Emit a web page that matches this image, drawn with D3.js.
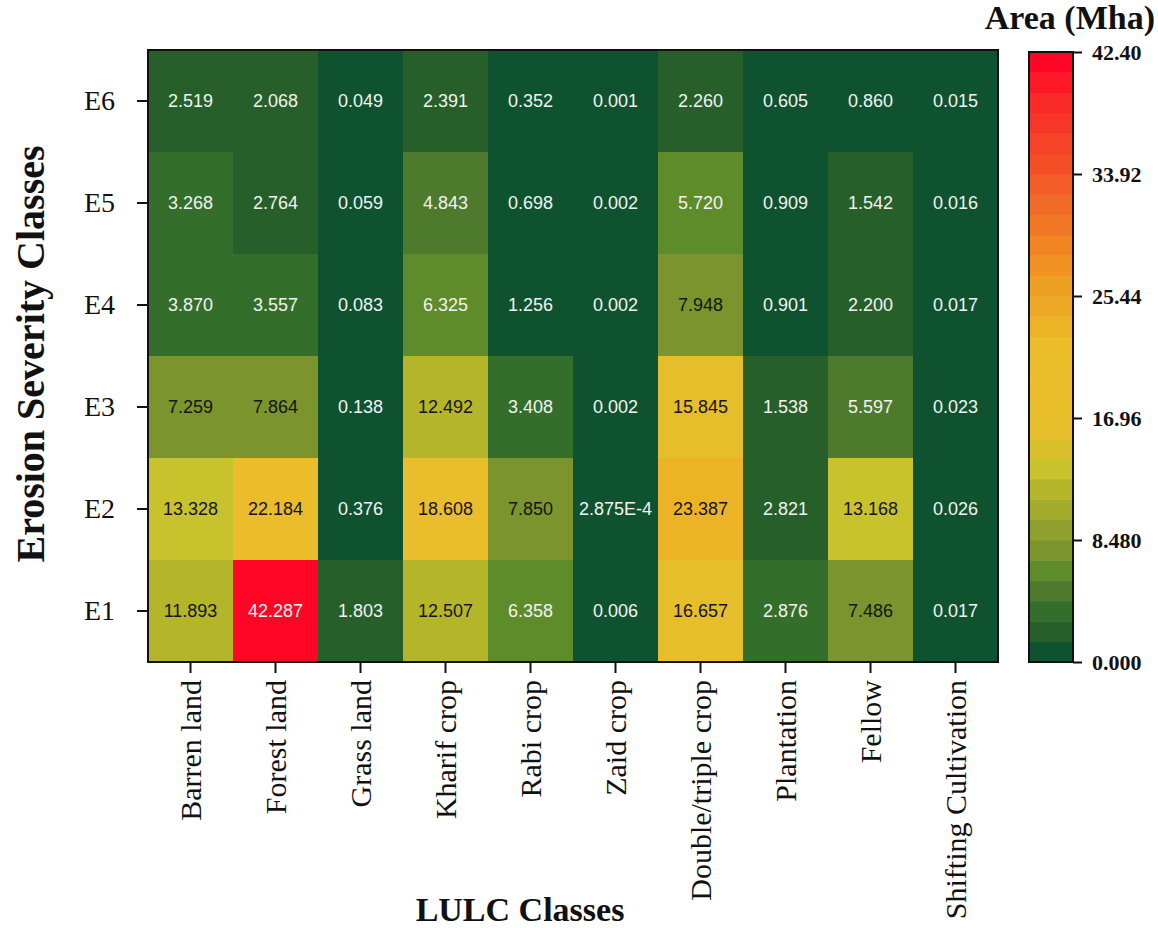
<!DOCTYPE html>
<html>
<head>
<meta charset="utf-8">
<script src="https://cdn.jsdelivr.net/npm/d3@7"></script>
<style>
  body { margin: 0; background: #fff; }
  svg { display: block; }
</style>
</head>
<body>
<svg id="chart" width="1158" height="928"></svg>
<script>
// ---- data ----
const lulcClasses = ["Barren land", "Forest land", "Grass land", "Kharif crop", "Rabi crop",
  "Zaid crop", "Double/triple crop", "Plantation", "Fellow", "Shifting Cultivation"];
const severityClasses = ["E6", "E5", "E4", "E3", "E2", "E1"];
const e6 = [2.519, 2.068, 0.049, 2.391, 0.352, 0.001, 2.260, 0.605, 0.860, 0.015];
const e5 = [3.268, 2.764, 0.059, 4.843, 0.698, 0.002, 5.720, 0.909, 1.542, 0.016];
const e4 = [3.870, 3.557, 0.083, 6.325, 1.256, 0.002, 7.948, 0.901, 2.200, 0.017];
const e3 = [7.259, 7.864, 0.138, 12.492, 3.408, 0.002, 15.845, 1.538, 5.597, 0.023];
const e2 = [13.328, 22.184, 0.376, 18.608, 7.850, 2.875e-4, 23.387, 2.821, 13.168, 0.026];
const e1 = [11.893, 42.287, 1.803, 12.507, 6.358, 0.006, 16.657, 2.876, 7.486, 0.017];
const colorbarTicks = [0, 8.48, 16.96, 25.44, 33.92, 42.40];
const colorbarTickLabels = ["0.000", "8.480", "16.96", "25.44", "33.92", "42.40"];
const colorMax = 42.40;
const nLevels = 30;

const rowsData = [e6, e5, e4, e3, e2, e1];
const cells = [];
rowsData.forEach((arr, ri) => arr.forEach((v, ci) => cells.push({row: severityClasses[ri], col: lulcClasses[ci], v})));

// ---- layout ----
const svg = d3.select("#chart");
const L = 148, T = 50, R = 998, B = 662;

const x = d3.scaleBand().domain(lulcClasses).range([L, R]);
const y = d3.scaleBand().domain(severityClasses).range([T, B]);

// colormap anchors (green -> yellow -> red), quantized into levels
const anchorVals = [0.71, 2.12, 3.53, 4.95, 6.36, 7.77, 9.19, 10.6, 12.01, 13.43, 14.84, 16.25,
  21.91, 23.32, 24.73, 26.15, 28.97, 31.8, 34.62, 38.87, 41.69];
const anchorCols = ["#0f5230", "#275f2b", "#336f2a", "#4e7a2e", "#5e8c2a", "#7b942d", "#8fa02c", "#a3ac2c",
  "#b5b52a", "#c8c22c", "#d8c02a", "#e6bd2a", "#ecbd2b", "#edb327", "#eda926", "#eea024", "#f38422",
  "#f06a28", "#f44e26", "#f92a28", "#ff0626"];
const cont = d3.scaleLinear().domain(anchorVals).range(anchorCols).interpolate(d3.interpolateRgb).clamp(true);
const step = colorMax / nLevels;
const levelColors = d3.range(nLevels).map(i => cont((i + 0.5) * step));
const color = d3.scaleQuantize().domain([0, colorMax]).range(levelColors);

// cells
svg.append("g").selectAll("rect").data(cells).join("rect")
  .attr("x", d => x(d.col))
  .attr("y", d => y(d.row))
  .attr("width", x.bandwidth() + 0.5)
  .attr("height", y.bandwidth() + 0.5)
  .attr("fill", d => color(Math.min(d.v, colorMax - 1e-9)));

const fmt = v => v < 0.001 ? v.toExponential(3).toUpperCase() : v.toFixed(3);
svg.append("g").selectAll("text").data(cells).join("text")
  .attr("x", d => x(d.col) + x.bandwidth() / 2)
  .attr("y", d => y(d.row) + y.bandwidth() / 2)
  .attr("dy", "0.36em")
  .attr("text-anchor", "middle")
  .attr("font-family", "Liberation Sans, Arial, sans-serif")
  .attr("font-size", 18)
  .attr("fill", d => (d.v >= 7 && d.v < 40) ? "#151515" : "#f2f2f2")
  .text(d => fmt(d.v));

// frame
svg.append("rect").attr("x", L).attr("y", T).attr("width", R - L).attr("height", B - T)
  .attr("fill", "none").attr("stroke", "#111").attr("stroke-width", 2);

// axes
const yAxis = svg.append("g").attr("transform", `translate(${L},0)`)
  .call(d3.axisLeft(y).tickSize(11).tickPadding(22));
yAxis.select(".domain").remove();
yAxis.selectAll(".tick line").attr("stroke", "#111").attr("stroke-width", 2);
yAxis.selectAll(".tick text").attr("font-family", "Liberation Serif, Times New Roman, serif")
  .attr("font-size", 28).attr("fill", "#111");

const xAxis = svg.append("g").attr("transform", `translate(0,${B})`)
  .call(d3.axisBottom(x).tickSize(11));
xAxis.select(".domain").remove();
xAxis.selectAll(".tick line").attr("stroke", "#111").attr("stroke-width", 2);
xAxis.selectAll(".tick text")
  .attr("font-family", "Liberation Serif, Times New Roman, serif")
  .attr("font-size", 30).attr("fill", "#111")
  .attr("transform", "rotate(-90)")
  .attr("text-anchor", "end")
  .attr("x", -18).attr("y", 0).attr("dy", "0.35em");

// axis titles
svg.append("text")
  .attr("transform", `translate(44,354) rotate(-90)`)
  .attr("text-anchor", "middle")
  .attr("font-family", "Liberation Serif, Times New Roman, serif")
  .attr("font-weight", "bold").attr("font-size", 40).attr("fill", "#111")
  .text("Erosion Severity Classes");

svg.append("text")
  .attr("x", 520).attr("y", 921)
  .attr("text-anchor", "middle")
  .attr("font-family", "Liberation Serif, Times New Roman, serif")
  .attr("font-weight", "bold").attr("font-size", 34).attr("fill", "#111")
  .text("LULC Classes");

// colorbar
const cbL = 1029, cbR = 1073, cbT = 52, cbB = 662;
const cy = d3.scaleLinear().domain([0, colorMax]).range([cbB, cbT]);
svg.append("g").selectAll("rect").data(levelColors).join("rect")
  .attr("x", cbL)
  .attr("y", (c, i) => cy((i + 1) * step))
  .attr("width", cbR - cbL)
  .attr("height", (c, i) => cy(i * step) - cy((i + 1) * step) + 0.5)
  .attr("fill", c => c);
svg.append("rect").attr("x", cbL).attr("y", cbT).attr("width", cbR - cbL).attr("height", cbB - cbT)
  .attr("fill", "none").attr("stroke", "#111").attr("stroke-width", 2);

const cbAxis = svg.append("g").attr("transform", `translate(${cbR},0)`)
  .call(d3.axisRight(cy).tickValues(colorbarTicks).tickSize(9).tickPadding(10)
    .tickFormat((d, i) => colorbarTickLabels[i]));
cbAxis.select(".domain").remove();
cbAxis.selectAll(".tick line").attr("stroke", "#111").attr("stroke-width", 2);
cbAxis.selectAll(".tick text").attr("font-family", "Liberation Serif, Times New Roman, serif")
  .attr("font-weight", "bold").attr("font-size", 22).attr("fill", "#111");

svg.append("text")
  .attr("x", 1155).attr("y", 29)
  .attr("text-anchor", "end")
  .attr("font-family", "Liberation Serif, Times New Roman, serif")
  .attr("font-weight", "bold").attr("font-size", 34).attr("fill", "#111")
  .text("Area (Mha)");
</script>
</body>
</html>
